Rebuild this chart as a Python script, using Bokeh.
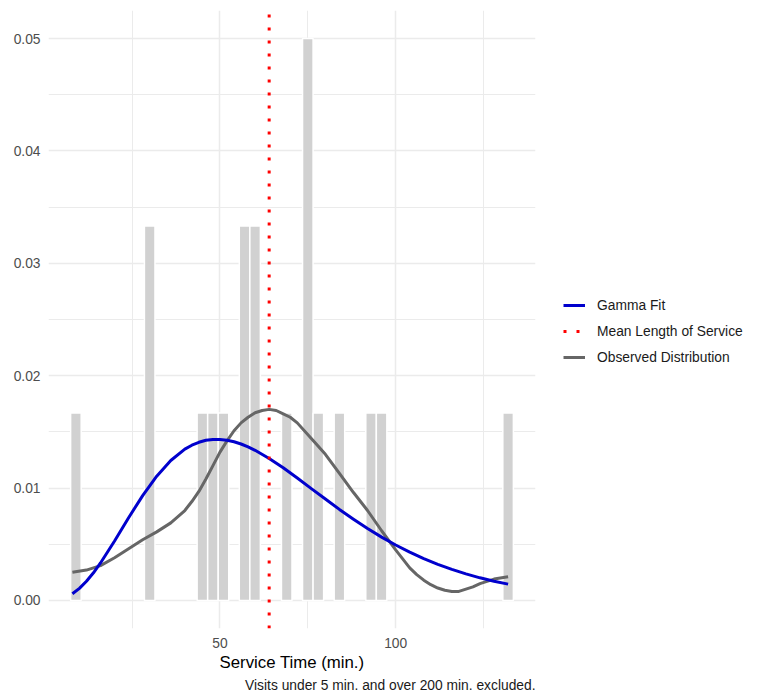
from bokeh.plotting import figure
from bokeh.layouts import row
from bokeh.models import (Range1d, FixedTicker, NumeralTickFormatter, Legend,
                          LegendItem, Title)
from bokeh.embed import file_html
from bokeh.resources import INLINE

# ---- data ----
bin_centers = [9, 30, 45, 48, 51, 57, 60, 69, 75, 78, 84, 93, 96, 132]
bin_density = [0.01667, 0.03333, 0.01667, 0.01667, 0.01667, 0.03333, 0.03333,
               0.01667, 0.05, 0.01667, 0.01667, 0.01667, 0.01667, 0.01667]
bin_width = 3

gamma_x = [8, 10, 12, 14, 16, 20, 24, 28, 32, 36, 40, 42, 44, 46, 48, 50, 52, 54,
           56, 58, 60, 64, 68, 72, 76, 80, 84, 88, 92, 96, 100, 104, 108, 112,
           116, 120, 124, 128, 132]
gamma_fit = [0.00059, 0.00107, 0.00170, 0.00246, 0.00333, 0.00529, 0.00736, 0.00933,
             0.01106, 0.01245, 0.01346, 0.01381, 0.01407, 0.01425, 0.01433, 0.01433,
             0.01426, 0.01412, 0.01392, 0.01366, 0.01336, 0.01263, 0.01180, 0.01089,
             0.00995, 0.00902, 0.00810, 0.00723, 0.00640, 0.00563, 0.00493, 0.00429,
             0.00372, 0.00321, 0.00276, 0.00236, 0.00201, 0.00171, 0.00145]

observed_x = [8, 12, 16, 20, 24, 28, 32, 36, 40, 42, 44, 46, 48, 50, 52, 54, 56, 58,
              60, 62, 64, 66, 68, 70, 72, 76, 80, 84, 88, 92, 96, 100, 104, 106, 108,
              110, 112, 114, 116, 118, 120, 122, 124, 126, 128, 132]
observed_density = [0.0025, 0.0027, 0.0031, 0.0038, 0.0046, 0.0054, 0.0061, 0.0069,
                    0.0080, 0.0088, 0.0097, 0.0108, 0.0120, 0.0132, 0.0142, 0.0151,
                    0.0158, 0.0163, 0.0167, 0.0169, 0.0170, 0.0169, 0.0166, 0.0163,
                    0.0158, 0.0144, 0.0130, 0.0113, 0.0096, 0.0080, 0.0062, 0.0045,
                    0.0029, 0.0023, 0.0018, 0.0014, 0.0011, 0.0009, 0.0008, 0.0008,
                    0.0010, 0.0012, 0.0015, 0.0017, 0.0019, 0.0021]
mean_service = 64.0

x_limits = (1.2, 139.8)
y_limits = (-0.0025, 0.0525)
x_major_ticks = [50, 100]
x_minor_ticks = [25, 75, 125]
y_major_ticks = [0.0, 0.01, 0.02, 0.03, 0.04, 0.05]
y_minor_ticks = [0.005, 0.015, 0.025, 0.035, 0.045]

x_label = "Service Time (min.)"
caption = "Visits under 5 min. and over 200 min. excluded."
legend_labels = ["Gamma Fit", "Mean Length of Service", "Observed Distribution"]

FONT = "Liberation Sans"
SMALL = "13.8px"
TOTAL_W, TOTAL_H = 757, 696
MAIN_W = 536

p = figure(width=MAIN_W, height=TOTAL_H, output_backend="svg", toolbar_location=None,
           x_range=Range1d(*x_limits), y_range=Range1d(*y_limits),
           min_border_left=48, min_border_right=1, min_border_top=10,
           min_border_bottom=68)
p.outline_line_color = None
p.background_fill_color = "white"
p.border_fill_color = "white"

# grid
for g in (p.xgrid, p.ygrid):
    g.grid_line_color = "#EBEBEB"
    g.grid_line_width = 1.5
    g.minor_grid_line_color = "#EBEBEB"
    g.minor_grid_line_width = 1

p.xaxis.ticker = FixedTicker(ticks=x_major_ticks, minor_ticks=x_minor_ticks)
p.yaxis.ticker = FixedTicker(ticks=y_major_ticks, minor_ticks=y_minor_ticks)
p.yaxis.formatter = NumeralTickFormatter(format="0.00")

for ax in (p.xaxis, p.yaxis):
    ax.axis_line_color = None
    ax.major_tick_line_color = None
    ax.minor_tick_line_color = None
    ax.major_tick_out = 0
    ax.major_tick_in = 0
    ax.minor_tick_out = 0
    ax.minor_tick_in = 0
    ax.major_label_text_font = FONT
    ax.major_label_text_font_size = SMALL
    ax.major_label_text_color = "#4D4D4D"
p.yaxis.major_label_standoff = 8
p.xaxis.major_label_standoff = 9
p.xaxis.axis_label = x_label
p.xaxis.axis_label_text_font = FONT
p.xaxis.axis_label_text_font_size = "16.8px"
p.xaxis.axis_label_text_font_style = "normal"
p.xaxis.axis_label_text_color = "black"
p.xaxis.axis_label_standoff = 2

cap = Title(text=caption, align="right", standoff=2, text_font=FONT,
            text_font_size=SMALL, text_font_style="normal",
            text_color="#1A1A1A")
p.add_layout(cap, "below")

# histogram
p.vbar(x=bin_centers, top=bin_density, bottom=0, width=bin_width,
       fill_color="#D1D1D1", line_color="white", line_width=1.5)

# curves
p.line(observed_x, observed_density, line_color="#666666", line_width=3,
       line_join="round")
p.line(gamma_x, gamma_fit, line_color="#0000CD", line_width=3, line_join="round")

# mean line (full panel height)
p.line(x=[mean_service, mean_service], y=[y_limits[0], y_limits[1]],
       line_color="red", line_width=3, line_dash="3 10")

# ---- legend panel (separate figure to the right of the plot) ----
lf = figure(width=TOTAL_W - MAIN_W, height=TOTAL_H, output_backend="svg",
            toolbar_location=None, x_axis_type=None, y_axis_type=None,
            x_range=Range1d(1000, 1001), y_range=Range1d(1000, 1001),
            min_border_left=0, min_border_right=0, min_border_top=0,
            min_border_bottom=0)
lf.outline_line_color = None
lf.grid.visible = False
lg_gamma = lf.line(gamma_x, gamma_fit, line_color="#0000CD", line_width=3)
lg_mean = lf.line(x=[mean_service, mean_service], y=[y_limits[0], y_limits[1]],
                  line_color="red", line_width=3, line_dash="3 10")
lg_obs = lf.line(observed_x, observed_density, line_color="#666666", line_width=3)

legend = Legend(items=[LegendItem(label=legend_labels[0], renderers=[lg_gamma]),
                       LegendItem(label=legend_labels[1], renderers=[lg_mean]),
                       LegendItem(label=legend_labels[2], renderers=[lg_obs])],
                location=(27, 261), orientation="vertical",
                glyph_width=22, glyph_height=20, label_height=20,
                label_standoff=12, spacing=6, padding=0, margin=0,
                border_line_color=None, background_fill_alpha=0,
                label_text_font=FONT, label_text_font_size=SMALL,
                label_text_color="#1A1A1A")
lf.add_layout(legend)

layout = row(p, lf, spacing=0)
open("out.html", "w").write(file_html(layout, INLINE))
